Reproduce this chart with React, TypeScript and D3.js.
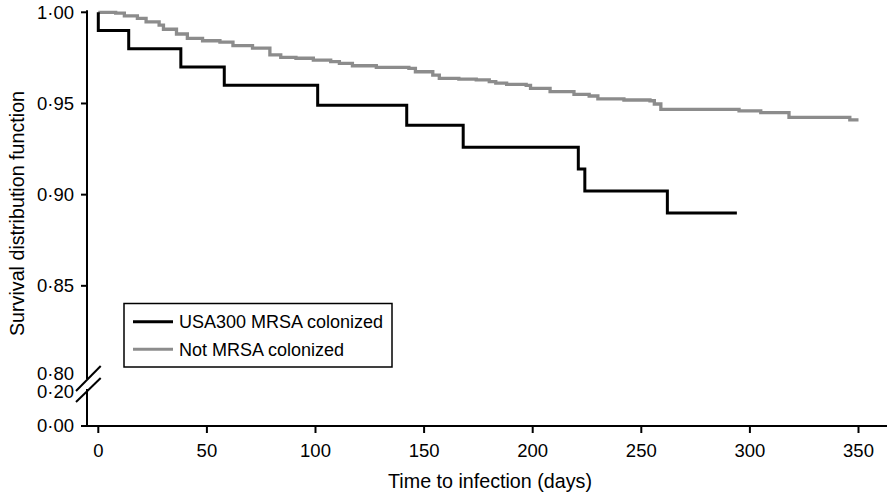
import * as d3 from 'd3'

// Kaplan-Meier curve, USA300 MRSA colonized (time in days, survival)
const usaTimes = [0, 0, 14, 38, 58, 101, 142, 168, 221, 224, 262, 294]
const usaSurv = [1.0, 0.99, 0.98, 0.97, 0.96, 0.949, 0.938, 0.926, 0.914, 0.902, 0.89, 0.89]

// Kaplan-Meier curve, not MRSA colonized
const notTimes = [
  0, 8, 12, 18, 22, 28, 30, 36, 41, 48, 56, 62, 71, 79, 84, 91, 99, 107, 111, 117, 128, 143, 146,
  154, 157, 166, 174, 180, 183, 188, 197, 199, 208, 219, 226, 230, 242, 254, 256, 259, 295, 305,
  318, 346, 350,
]
const notSurv = [
  1.0, 0.9995, 0.998, 0.9967, 0.9948, 0.993, 0.9907, 0.9881, 0.9857, 0.9844, 0.9836, 0.9817,
  0.9803, 0.9766, 0.9753, 0.9748, 0.9738, 0.9729, 0.972, 0.9707, 0.9698, 0.9693, 0.9674, 0.9656,
  0.9638, 0.9633, 0.9629, 0.962, 0.9612, 0.9605, 0.9599, 0.9583, 0.9565, 0.955, 0.9541, 0.9525,
  0.9519, 0.9515, 0.9497, 0.9468, 0.9459, 0.945, 0.9424, 0.941, 0.941,
]

const xTicks = [0, 50, 100, 150, 200, 250, 300, 350]
const yTicksUpper = [1.0, 0.95, 0.9, 0.85]
const legendLabels = ['USA300 MRSA colonized', 'Not MRSA colonized']
const seriesColors = ['#000000', '#8c8c8c']

const W = 892
const H = 495
const FONT = '"Liberation Sans", Arial, Helvetica, sans-serif'

const axisX = 87
const axisY = 426

const fmt = (v: number) => d3.format('.2f')(v).replace('.', '·')

export default function App() {
  const x = d3.scaleLinear().domain([0, 350]).range([98.3, 858.5])
  const yUp = d3.scaleLinear().domain([0.8, 1.0]).range([377, 12.3])
  const yLow = d3.scaleLinear().domain([0, 0.2]).range([axisY, 389])

  const line = d3
    .line<[number, number]>()
    .x(d => x(d[0]))
    .y(d => yUp(d[1]))
    .curve(d3.curveStepAfter)

  const usaPath = line(usaTimes.map((t, i) => [t, usaSurv[i]]))
  const notPath = line(notTimes.map((t, i) => [t, notSurv[i]]))

  return (
    <div>
      <style>{'body{margin:0}'}</style>
      <svg width={W} height={H} style={{ display: 'block', background: '#fff' }} fontFamily={FONT}>
        {/* y axis, upper segment */}
        <line x1={axisX} x2={axisX} y1={yUp(1.0) - 2} y2={379} stroke="#000" strokeWidth={2} />
        {/* y axis, lower segment */}
        <line x1={axisX} x2={axisX} y1={389} y2={axisY + 1} stroke="#000" strokeWidth={2} />
        {/* break marks */}
        <line x1={76} y1={391} x2={100.7} y2={366} stroke="#000" strokeWidth={2} />
        <line x1={76} y1={402} x2={100.7} y2={378} stroke="#000" strokeWidth={2} />

        {yTicksUpper.map(v => (
          <g key={v}>
            <line x1={axisX - 6} x2={axisX} y1={yUp(v)} y2={yUp(v)} stroke="#000" strokeWidth={2} />
            <text x={74} y={yUp(v)} dy="0.35em" textAnchor="end" fontSize={18.5}>
              {fmt(v)}
            </text>
          </g>
        ))}
        <text x={74} y={yUp(0.8) - 3} dy="0.35em" textAnchor="end" fontSize={18.5}>
          {fmt(0.8)}
        </text>
        <text x={74} y={yLow(0.2) + 2.5} dy="0.35em" textAnchor="end" fontSize={18.5}>
          {fmt(0.2)}
        </text>
        <line x1={axisX - 6} x2={axisX} y1={yLow(0)} y2={yLow(0)} stroke="#000" strokeWidth={2} />
        <text x={74} y={yLow(0)} dy="0.35em" textAnchor="end" fontSize={18.5}>
          {fmt(0)}
        </text>

        {/* x axis */}
        <line x1={axisX - 1} x2={887} y1={axisY} y2={axisY} stroke="#000" strokeWidth={2} />
        {xTicks.map(v => (
          <g key={v}>
            <line x1={x(v)} x2={x(v)} y1={axisY} y2={axisY + 7} stroke="#000" strokeWidth={2} />
            <text x={x(v)} y={457} textAnchor="middle" fontSize={18.5}>
              {v}
            </text>
          </g>
        ))}

        <text x={490} y={488} textAnchor="middle" fontSize={19.7}>
          Time to infection (days)
        </text>
        <text transform="translate(24,213.5) rotate(-90)" textAnchor="middle" fontSize={19.7}>
          Survival distribution function
        </text>

        {/* curves */}
        <path d={notPath ?? ''} fill="none" stroke={seriesColors[1]} strokeWidth={3.3} />
        <path d={usaPath ?? ''} fill="none" stroke={seriesColors[0]} strokeWidth={3} />

        {/* legend */}
        <rect x={124} y={303.5} width={268} height={63.5} fill="#fff" stroke="#000" strokeWidth={1.5} />
        {legendLabels.map((lbl, i) => {
          const ly = 321.7 + i * 27.6
          return (
            <g key={lbl}>
              <line x1={133} x2={173} y1={ly} y2={ly} stroke={seriesColors[i]} strokeWidth={3} />
              <text x={179} y={ly} dy="0.35em" fontSize={18}>
                {lbl}
              </text>
            </g>
          )
        })}
      </svg>
    </div>
  )
}
